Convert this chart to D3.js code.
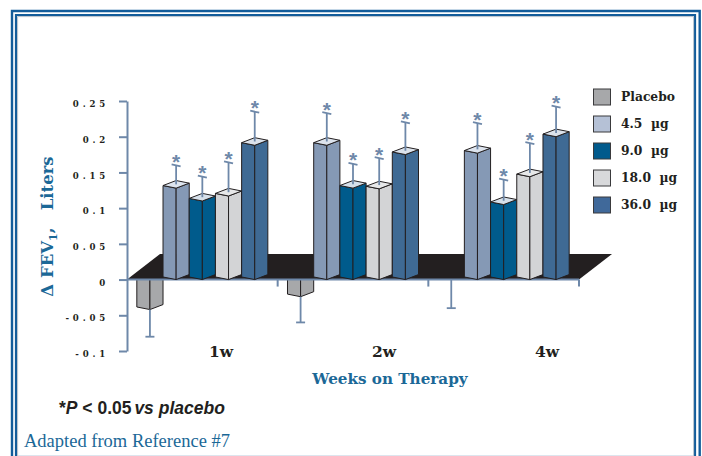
<!DOCTYPE html>
<html>
<head>
<meta charset="utf-8">
<script src="https://cdn.jsdelivr.net/npm/d3@7"></script>
<style>
  html, body { margin: 0; padding: 0; background: #ffffff; }
  svg { display: block; }
</style>
</head>
<body>
<svg id="chart" width="702" height="456"></svg>
<script>
// ---- data -------------------------------------------------------------
const weeks = ["1w", "2w", "4w"];
const series = ["Placebo", "4.5  µg", "9.0  µg", "18.0  µg", "36.0  µg"];

// mean change in FEV1 (litres) at each week, one array per arm
const placebo = [-0.042, -0.024, 0.0];
const dose45  = [0.128, 0.188, 0.177];
const dose90  = [0.110, 0.128, 0.105];
const dose180 = [0.117, 0.127, 0.144];
const dose360 = [0.188, 0.175, 0.200];

// end point of each error whisker
const placeboErr = [-0.080, -0.060, -0.040];
const dose45Err  = [0.160, 0.233, 0.219];
const dose90Err  = [0.144, 0.162, 0.140];
const dose180Err = [0.164, 0.170, 0.191];
const dose360Err = [0.235, 0.220, 0.242];

// arms marked * (P < 0.05 vs placebo)
const significant = [false, true, true, true, true];

const yTicks = [0.25, 0.2, 0.15, 0.1, 0.05, 0, -0.05, -0.1];
const yTickLabels = ["0.25", "0.2", "0.15", "0.1", "0.05", "0", "-0.05", "-0.1"];

// ---- styling ----------------------------------------------------------
const sideColors   = ["#a7a8aa", "#8599b5", "#005b8c", "#d3d4d6", "#3f6a94"];
const topColors    = ["#c9cacc", "#dde4ee", "#d6e0ea", "#e7e8e9", "#dbe2eb"];
const swatchColors = ["#a7a8aa", "#b5c1d6", "#015a8c", "#d8d9db", "#40699a"];
const axisColor = "#6e88a9";
const titleColor = "#1b6897";
const frameColor = "#135c9a";
const edgeColor = "#231f20";
const serifBold = "'DejaVu Serif', serif";

const values = [placebo, dose45, dose90, dose180, dose360];
const errors = [placeboErr, dose45Err, dose90Err, dose180Err, dose360Err];

const svg = d3.select("#chart");

// ---- frame ------------------------------------------------------------
const frame = svg.append("g").attr("fill", "none");
frame.append("path").attr("d", "M12,470V11H699.7V470")
  .attr("stroke", frameColor).attr("stroke-width", 2.4);
frame.append("path").attr("d", "M16,470V15H695V470")
  .attr("stroke", frameColor).attr("stroke-width", 2.2);
frame.append("path").attr("d", "M17.6,470V16.6H693.6V470")
  .attr("stroke", "#b8c2cc").attr("stroke-width", 1);
frame.append("path").attr("d", "M18,455.5H693")
  .attr("stroke", "#dde5ee").attr("stroke-width", 1.2);

// ---- scales -----------------------------------------------------------
const x0 = d3.scaleBand().domain(weeks).range([127, 579]);
const x1 = d3.scaleBand().domain(series).range([0, x0.bandwidth()])
  .paddingInner(0).paddingOuter(0.375);
const y = d3.scaleLinear().domain([-0.1, 0.25]).range([351, 101]);
const labelX = d3.scalePoint().domain(weeks).range([221, 547]);
const legendY = d3.scalePoint().domain(series).range([97, 205]);

const half = x1.bandwidth() / 2;
const dropL = 2.6;   // left corner of a bar sits this far above the front edge
const dropR = 5.0;   // right corner
const depthX = 33, depthY = 25.5; // floor depth

// one record per bar
const bars = [];
weeks.forEach((w, i) => {
  series.forEach((s, j) => {
    bars.push({
      week: w, s, j,
      v: values[j][i],
      e: errors[j][i],
      xc: x0(w) + x1(s) + half
    });
  });
});

const pts = a => a.map(p => p.join(",")).join(" ");

function drawBar(g, d) {
  const y0 = y(0), yv = y(d.v);
  const yTop = Math.min(y0, yv), yBot = Math.max(y0, yv);
  const xc = d.xc;
  const bg = g.append("g")
    .attr("stroke", edgeColor).attr("stroke-width", 1)
    .attr("stroke-linejoin", "round");
  bg.append("polygon")
    .attr("points", pts([[xc - half, yBot - dropL], [xc, yBot], [xc, yTop], [xc - half, yTop - dropL]]))
    .attr("fill", sideColors[d.j]);
  bg.append("polygon")
    .attr("points", pts([[xc, yBot], [xc + half, yBot - dropR], [xc + half, yTop - dropR], [xc, yTop]]))
    .attr("fill", sideColors[d.j]);
  if (d.v > 0) {
    bg.append("polygon")
      .attr("points", pts([[xc, yTop], [xc + half, yTop - dropR], [xc, yTop - dropL - dropR], [xc - half, yTop - dropL]]))
      .attr("fill", topColors[d.j]);
  }
}

// negative bars hang below the floor, so they go first
const negLayer = svg.append("g");
bars.filter(d => d.v < 0).forEach(d => drawBar(negLayer, d));

// ---- floor ------------------------------------------------------------
const [xa, xb] = x0.range();
svg.append("polygon")
  .attr("points", pts([[xa, y(0)], [xa + depthX, y(0) - depthY], [xb + depthX, y(0) - depthY], [xb, y(0)]]))
  .attr("fill", edgeColor);

// ---- x axis line with ticks at group boundaries ------------------------
const xAxis = svg.append("g").attr("stroke", axisColor).attr("stroke-width", 2);
xAxis.append("line").attr("x1", xa).attr("x2", xb).attr("y1", y(0)).attr("y2", y(0));
xAxis.selectAll("line.tick").data(weeks).join("line")
  .attr("class", "tick")
  .attr("x1", w => x0(w) + x0.bandwidth()).attr("x2", w => x0(w) + x0.bandwidth())
  .attr("y1", y(0)).attr("y2", y(0) + 7);

// ---- positive bars -----------------------------------------------------
const posLayer = svg.append("g");
bars.filter(d => d.v > 0).forEach(d => drawBar(posLayer, d));

// ---- error whiskers ----------------------------------------------------
const errLayer = svg.append("g").attr("stroke", axisColor).attr("stroke-width", 1.8).attr("fill", "none");
bars.forEach(d => {
  const start = d.v > 0 ? y(d.v) - (dropL + dropR) / 2 : y(d.v);
  const ye = y(d.e);
  errLayer.append("line").attr("x1", d.xc).attr("x2", d.xc).attr("y1", start).attr("y2", ye);
  const tilt = d.e > 0 ? 1 : 0;
  errLayer.append("line")
    .attr("x1", d.xc - 4.5).attr("x2", d.xc + 4.5)
    .attr("y1", ye - tilt).attr("y2", ye + tilt);
});

// significance stars
svg.append("g").selectAll("text")
  .data(bars.filter(d => significant[d.j]))
  .join("text")
  .attr("x", d => d.xc)
  .attr("y", d => y(d.e) + 3.5)
  .attr("text-anchor", "middle")
  .attr("font-family", "'Liberation Sans', Arial, sans-serif")
  .attr("font-weight", "bold")
  .attr("font-size", 21)
  .attr("fill", axisColor)
  .text("*");

// ---- y axis -------------------------------------------------------------
const yAxis = svg.append("g")
  .attr("transform", "translate(127,0)")
  .call(d3.axisLeft(y).tickValues(yTicks)
    .tickFormat((d, i) => yTickLabels[i])
    .tickSize(8).tickSizeOuter(0).tickPadding(10));
yAxis.select(".domain").attr("stroke", axisColor).attr("stroke-width", 2);
yAxis.selectAll(".tick line").attr("stroke", axisColor).attr("stroke-width", 2);
yAxis.selectAll(".tick text")
  .attr("x", -18)
  .attr("dy", "0.66em")
  .attr("fill", edgeColor)
  .attr("font-family", serifBold)
  .attr("font-weight", "bold")
  .attr("font-size", 8.6)
  .attr("letter-spacing", 3.8);

// ---- y title: Δ FEV1, Liters -----------------------------------------
const yTitle = svg.append("text")
  .attr("transform", "translate(53,226.5) rotate(-90)")
  .attr("text-anchor", "middle")
  .attr("font-family", serifBold)
  .attr("font-weight", "bold")
  .attr("font-size", 16.5)
  .attr("fill", titleColor)
  .attr("xml:space", "preserve")
  .style("white-space", "pre");
yTitle.append("tspan").text("Δ FEV");
yTitle.append("tspan").attr("font-size", 11).attr("dy", 4).text("1");
yTitle.append("tspan").attr("dy", -4).text(",   Liters");

// ---- category labels ----------------------------------------------------
svg.append("g").selectAll("text").data(weeks).join("text")
  .attr("x", w => labelX(w))
  .attr("y", 357)
  .attr("text-anchor", "middle")
  .attr("font-family", serifBold)
  .attr("font-weight", "bold")
  .attr("font-size", 15.5)
  .attr("fill", edgeColor)
  .text(w => w);

svg.append("text")
  .attr("x", 390).attr("y", 383.5)
  .attr("text-anchor", "middle")
  .attr("font-family", serifBold)
  .attr("font-weight", "bold")
  .attr("font-size", 15.2)
  .attr("fill", titleColor)
  .text("Weeks on Therapy");

// ---- footnotes ---------------------------------------------------------
const note = svg.append("text")
  .attr("x", 59).attr("y", 413.5)
  .attr("font-family", "'Liberation Sans', Arial, sans-serif")
  .attr("font-weight", "bold")
  .attr("font-size", 17.5)
  .attr("fill", edgeColor)
  .style("white-space", "pre");
note.append("tspan").text("*");
note.append("tspan").attr("font-style", "italic").text("P");
note.append("tspan").text(" < 0.05");
note.append("tspan").attr("font-style", "italic").attr("dx", -2).text(" vs placebo");

svg.append("text")
  .attr("x", 24).attr("y", 447.3)
  .attr("font-family", "'Liberation Serif', serif")
  .attr("font-size", 18.5)
  .attr("fill", titleColor)
  .text("Adapted from Reference #7");

// ---- legend ------------------------------------------------------------
const legend = svg.append("g");
const rows = legend.selectAll("g").data(series).join("g")
  .attr("transform", s => `translate(593.5,${legendY(s)})`);
rows.append("rect")
  .attr("x", 0).attr("y", -8)
  .attr("width", 17).attr("height", 16)
  .attr("fill", (s, i) => swatchColors[i])
  .attr("stroke", "#3a3a3c").attr("stroke-width", 1);
rows.append("text")
  .attr("x", 27.5).attr("y", 4.3)
  .attr("font-family", serifBold)
  .attr("font-weight", "bold")
  .attr("font-size", 12.3)
  .attr("fill", edgeColor)
  .style("white-space", "pre")
  .text(s => s);
</script>
</body>
</html>
